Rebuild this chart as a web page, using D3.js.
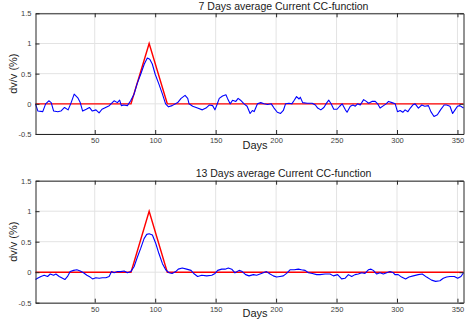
<!DOCTYPE html>
<html>
<head>
<meta charset="utf-8">
<script src="https://cdn.jsdelivr.net/npm/d3@7"></script>
<style>
  html, body { margin: 0; padding: 0; background: #fff; }
  svg { display: block; font-family: "Liberation Sans", Arial, Helvetica, sans-serif; }
</style>
</head>
<body>
<svg id="chart" width="465" height="322"></svg>
<script>
// Model curve: triangular dv/v pulse (days, percent)
const modelDays = [1, 80, 95, 110, 355];
const modelVals = [0, 0, 1, 0, 0];

// Measured dv/v, 7-day average stack
const days7 = [1, 3, 7, 9.4, 12, 14, 16, 19.5, 22, 25, 28, 30.5, 33, 36, 38, 40, 43, 45.6, 48, 51, 53.6, 56, 59, 62, 64.5, 66, 68.7, 70.6, 72, 74, 77, 79.7, 82.5, 85, 88, 91, 93.5, 95.5, 97.6, 100, 103, 106, 108.6, 111, 114, 117.5, 118.6, 121.4, 124.7, 126.9, 128, 131, 135, 139, 142, 144.7, 147.5, 149.4, 151, 153, 155.7, 158.5, 159.8, 162, 164, 166.7, 168.6, 170.6, 173.5, 176, 178.5, 180.4, 181.8, 184.6, 187.3, 190, 193, 196, 198.3, 201, 203.7, 206, 207.8, 210.6, 213, 215, 216.9, 219, 220, 222, 225.7, 229.8, 232.5, 234.4, 237, 239.5, 242, 243.6, 245.5, 247.7, 250.4, 252.6, 254.6, 257.3, 258.7, 261.4, 263.6, 265.5, 267.4, 269.6, 272.4, 274.6, 276.5, 279.3, 282, 284, 286, 288.9, 291, 293, 295.8, 298.5, 300.4, 302.6, 304.8, 306.7, 309, 311, 313, 315, 317.7, 320.5, 323, 326, 328, 330.6, 333.4, 336, 339, 341, 343.8, 346, 348, 350, 352, 355];
const vals7 = [0, -0.12, -0.13, 0, 0.05, 0.02, -0.12, -0.13, -0.12, -0.06, -0.1, 0.02, 0.16, 0.1, 0.02, -0.12, -0.09, -0.06, -0.12, -0.1, -0.15, -0.09, -0.06, -0.03, 0.02, 0.05, 0.02, 0.06, -0.03, -0.02, -0.03, 0.05, 0.16, 0.33, 0.49, 0.66, 0.76, 0.74, 0.66, 0.49, 0.33, 0.16, 0, -0.05, -0.03, 0.01, 0.02, 0.09, 0.14, 0.09, 0, -0.04, -0.07, -0.1, -0.07, -0.02, -0.03, -0.1, -0.02, 0.09, 0.13, 0.15, 0.09, 0, 0.06, 0.04, 0.09, 0.06, 0, -0.04, -0.16, -0.11, -0.13, 0, 0.02, 0, -0.01, 0, -0.07, -0.14, -0.16, -0.11, 0, 0.01, 0, 0.06, 0.12, 0.08, 0.11, 0.02, 0.01, 0.01, -0.02, -0.07, -0.1, -0.06, 0.02, 0.06, 0, -0.09, -0.09, -0.04, 0, -0.1, -0.14, -0.04, -0.02, -0.04, 0, -0.02, 0.07, 0.04, 0.01, 0.04, 0.04, 0, -0.07, -0.03, 0, 0.04, 0.02, 0, -0.13, -0.11, -0.14, -0.1, -0.13, -0.07, -0.02, 0, -0.07, -0.02, -0.04, -0.03, -0.13, -0.21, -0.18, -0.1, -0.02, -0.02, -0.04, -0.16, -0.1, -0.04, -0.03, -0.07];

// Measured dv/v, 13-day average stack
const days13 = [1, 2.7, 5.5, 8.2, 11, 13.2, 15.9, 17.9, 20.6, 23.4, 25.3, 27.5, 29.7, 32.5, 35.2, 38, 40.7, 43.5, 46.2, 48.2, 50.9, 53.7, 56.4, 59.2, 61.9, 63.9, 66, 68.8, 71.5, 74.3, 77, 79.8, 82.5, 85.3, 88, 90.8, 93, 95, 97.7, 100.5, 103, 106, 108.7, 111.5, 114, 117, 119.1, 122.4, 126, 129.6, 132.4, 135.1, 138.5, 142.6, 146.8, 149.5, 151.7, 155, 157.8, 160.5, 163.3, 166, 169.4, 172, 174.8, 177.6, 181.2, 183.9, 186.7, 189.4, 192, 195, 197.7, 200.4, 203.2, 206, 208.7, 211.5, 215, 218.4, 221, 224, 226.7, 230, 233.6, 236.3, 240.5, 244.6, 247.4, 250.9, 254.2, 257, 259.8, 262.5, 265.3, 268, 270.8, 273.5, 276.3, 278.5, 280.4, 283.2, 285.9, 288.7, 291.5, 294.2, 297, 298.3, 301, 303.8, 307.1, 309.9, 313.4, 317.6, 320.9, 324.5, 328.6, 331.9, 335.5, 338.3, 341, 343.8, 347.4, 350.2, 352.9, 355];
const vals13 = [-0.12, -0.1, -0.07, -0.05, -0.07, -0.03, -0.05, -0.03, -0.07, -0.1, -0.12, -0.07, 0.01, 0.03, 0.04, 0.02, -0.01, -0.05, -0.08, -0.11, -0.09, -0.1, -0.09, -0.09, -0.07, 0.01, -0.01, 0.01, 0.01, 0.02, -0.01, 0.01, 0.09, 0.25, 0.39, 0.55, 0.62, 0.63, 0.61, 0.47, 0.31, 0.14, 0.04, -0.01, -0.02, 0.01, 0.05, 0.07, 0.05, 0.03, -0.03, -0.07, -0.05, -0.06, -0.05, -0.02, 0.03, 0.05, 0.05, 0.07, 0.05, -0.01, 0.03, 0.01, -0.04, -0.06, -0.04, -0.05, -0.03, -0.01, 0.01, -0.03, -0.06, -0.08, -0.07, -0.06, -0.02, 0.04, 0.04, 0.05, 0.04, 0.03, -0.01, -0.02, -0.04, -0.04, -0.03, -0.03, -0.06, -0.04, -0.11, -0.1, -0.04, -0.07, -0.04, -0.03, -0.01, -0.02, 0.04, 0.05, 0.03, -0.03, -0.01, -0.03, -0.01, 0.01, -0.01, -0.04, -0.04, -0.08, -0.11, -0.08, -0.06, -0.04, -0.03, -0.08, -0.13, -0.15, -0.14, -0.1, -0.08, -0.07, -0.07, -0.1, -0.07, -0.01];

// Axis ticks
const xTicks = [50, 100, 150, 200, 250, 300, 350];
const yTicks = [-0.5, 0, 0.5, 1, 1.5];
const yTickLabels = ["-0.5", "0", "0.5", "1", "1.5"];

const panels = [
  { title: "7 Days average Current CC-function", days: days7, vals: vals7, top: 13.3, bottom: 134 },
  { title: "13 Days average Current CC-function", days: days13, vals: vals13, top: 180.7, bottom: 302.7 }
];

const svg = d3.select("#chart");
const left = 35.5, right = 463.5;

panels.forEach(p => {
  const x = d3.scaleLinear().domain([1, 355]).range([left, right]);
  const y = d3.scaleLinear().domain([-0.5, 1.5]).range([p.bottom, p.top]);
  const g = svg.append("g");

  // grid
  g.selectAll(".vgrid").data(xTicks).join("line")
    .attr("x1", d => x(d)).attr("x2", d => x(d))
    .attr("y1", p.top).attr("y2", p.bottom)
    .attr("stroke", "#e3e3e3").attr("stroke-width", 1);
  g.selectAll(".hgrid").data(yTicks).join("line")
    .attr("x1", left).attr("x2", right)
    .attr("y1", d => y(d)).attr("y2", d => y(d))
    .attr("stroke", "#e3e3e3").attr("stroke-width", 1);

  // model (red) and measured (blue) curves
  const line = d3.line().x(d => x(d[0])).y(d => y(d[1]));
  g.append("path")
    .datum(modelDays.map((d, i) => [d, modelVals[i]]))
    .attr("d", line).attr("fill", "none")
    .attr("stroke", "#ff0000").attr("stroke-width", 1.4);
  g.append("path")
    .datum(p.days.map((d, i) => [d, p.vals[i]]))
    .attr("d", line).attr("fill", "none")
    .attr("stroke", "#0000ff").attr("stroke-width", 1.1)
    .attr("stroke-linejoin", "round");

  // axes with inward ticks (box style)
  const tickLen = 4;
  const axB = d3.axisBottom(x).tickValues(xTicks).tickSizeInner(-tickLen).tickSizeOuter(0).tickPadding(4);
  const axT = d3.axisTop(x).tickValues(xTicks).tickSizeInner(-tickLen).tickSizeOuter(0).tickFormat("");
  const axL = d3.axisLeft(y).tickValues(yTicks).tickSizeInner(-tickLen).tickSizeOuter(0).tickPadding(4)
    .tickFormat((d, i) => yTickLabels[i]);
  const axR = d3.axisRight(y).tickValues(yTicks).tickSizeInner(-tickLen).tickSizeOuter(0).tickFormat("");

  const styleAxis = sel => {
    sel.select(".domain").attr("stroke", "#262626");
    sel.selectAll(".tick line").attr("stroke", "#262626");
    sel.selectAll(".tick text").attr("fill", "#404040")
      .style("font-size", "7.5px").style("font-family", "'Liberation Sans', Arial, sans-serif");
  };
  g.append("g").attr("transform", `translate(0,${p.bottom})`).call(axB).call(styleAxis);
  g.append("g").attr("transform", `translate(0,${p.top})`).call(axT).call(styleAxis);
  g.append("g").attr("transform", `translate(${left},0)`).call(axL).call(styleAxis);
  g.append("g").attr("transform", `translate(${right},0)`).call(axR).call(styleAxis);

  // title and labels
  g.append("text")
    .attr("x", (left + right) / 2 + 34).attr("y", p.top - 3.5)
    .attr("text-anchor", "middle").attr("fill", "#1a1a1a")
    .style("font-size", "10.5px").text(p.title);
  g.append("text")
    .attr("transform", `translate(17,${(p.top + p.bottom) / 2}) rotate(-90)`)
    .attr("text-anchor", "middle").attr("fill", "#1a1a1a")
    .style("font-size", "11px").text("dv/v (%)");
  g.append("text")
    .attr("x", 255).attr("y", p.bottom + 14.5)
    .attr("text-anchor", "middle").attr("fill", "#1a1a1a")
    .style("font-size", "11px").text("Days");
});
</script>
</body>
</html>
